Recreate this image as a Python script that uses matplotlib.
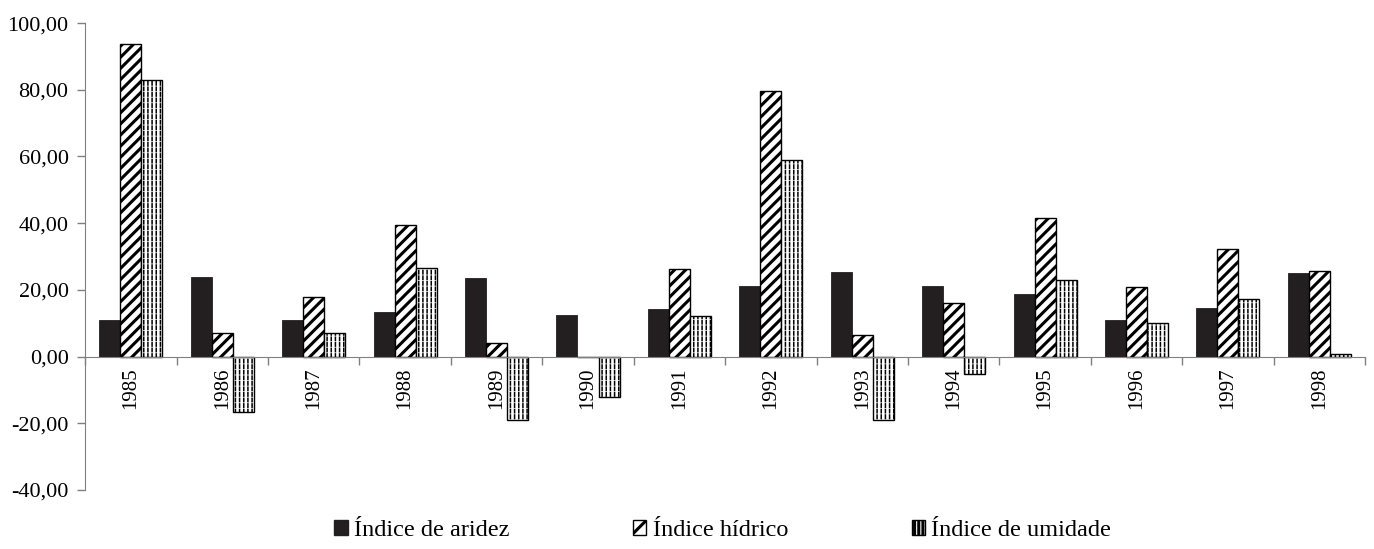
import numpy as np
import matplotlib
matplotlib.use("Agg")
import matplotlib.pyplot as plt
from matplotlib.ticker import FuncFormatter, FixedLocator
from matplotlib.patches import Patch

# ==========================
# DATA
# ==========================
anos = ["1985", "1986", "1987", "1988", "1989", "1990", "1991",
        "1992", "1993", "1994", "1995", "1996", "1997", "1998"]

indice_aridez = [11.1, 23.9, 11.1, 13.5, 23.6, 12.5, 14.3,
                 21.2, 25.4, 21.2, 18.8, 11.1, 14.6, 25.1]

indice_hidrico = [93.7, 7.1, 17.9, 39.6, 4.0, 0.0, 26.2,
                  79.7, 6.6, 16.2, 41.5, 20.8, 32.2, 25.6]

indice_umidade = [82.9, -16.7, 7.1, 26.5, -19.0, -12.2, 12.1,
                  58.9, -19.0, -5.2, 22.9, 10.0, 17.4, 0.8]

labels = ["Índice de aridez", "Índice hídrico", "Índice de umidade"]

# ==========================
# FIGURE
# ==========================
plt.rcParams["font.family"] = ["Liberation Serif", "DejaVu Serif"]
plt.rcParams["hatch.linewidth"] = 2.2

fig = plt.figure(figsize=(13.74, 5.49), dpi=100)
ax = fig.add_axes([0.062, 0.1075, 0.9315, 0.8505])

x = np.arange(len(anos))
w = 0.23

ax.bar(x - w, indice_aridez, w, color="#231f20", edgecolor="#231f20", linewidth=0.6)
ax.bar(x, indice_hidrico, w, color="white", edgecolor="black", hatch="///", linewidth=1.0)

# umidade: linhas verticais com quebras horizontais brancas
ax.bar(x + w, indice_umidade, w, color="white", edgecolor="black", hatch="||||", linewidth=0)
ax.bar(x + w, indice_umidade, w, color="none", edgecolor="white", hatch="---", linewidth=0)
ax.bar(x + w, indice_umidade, w, color="none", edgecolor="black", linewidth=1.0)

for patch in ax.patches[len(anos) * 2:len(anos) * 3]:
    patch.set_hatch_linewidth(1.1)
for patch in ax.patches[len(anos) * 3:len(anos) * 4]:
    patch.set_hatch_linewidth(0.5)

ax.set_xlim(-0.5, len(anos) - 0.5)
ax.set_ylim(-40, 100)
ax.set_yticks(np.arange(-40, 101, 20))
ax.yaxis.set_major_formatter(FuncFormatter(lambda v, p: f"{v:.2f}".replace(".", ",")))

# ticks nas bordas das categorias, rótulos no centro
ax.xaxis.set_major_locator(FixedLocator(np.arange(-0.5, len(anos), 1.0)))
ax.xaxis.set_minor_locator(FixedLocator(x))
ax.set_xticklabels([], minor=False)
ax.set_xticklabels(anos, minor=True)
ax.tick_params(axis="x", which="minor", length=0, pad=8, labelsize=15, labelrotation=90)
ax.tick_params(axis="x", which="major", length=6, color="#808080", width=1)
ax.tick_params(axis="y", length=6, color="#808080", width=1, labelsize=16, pad=6)

ax.spines["top"].set_visible(False)
ax.spines["right"].set_visible(False)
ax.spines["bottom"].set_position(("data", 0))
ax.spines["bottom"].set_color("#808080")
ax.spines["left"].set_color("#808080")

# ==========================
# LEGEND
# ==========================
handles = [
    Patch(facecolor="#231f20", edgecolor="#231f20"),
    Patch(facecolor="white", edgecolor="black", hatch="/"),
    Patch(facecolor="white", edgecolor="black", hatch="||||"),
]
leg = fig.legend(handles, labels, loc="lower center", bbox_to_anchor=(0.526, -0.012),
                 ncol=3, frameon=False, fontsize=17.5, handlelength=0.55,
                 handleheight=0.55, handletextpad=0.25, columnspacing=5.1,
                 borderpad=0.1)

fig.savefig("out.png", dpi=100)
